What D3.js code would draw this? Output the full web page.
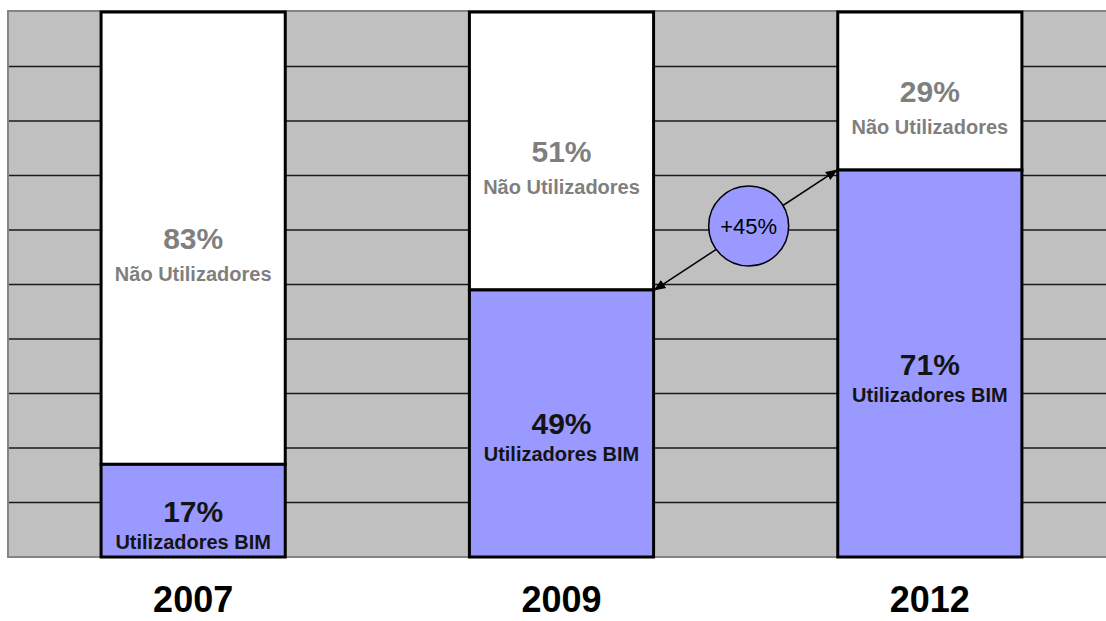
<!DOCTYPE html>
<html>
<head>
<meta charset="utf-8">
<script src="https://cdn.jsdelivr.net/npm/d3@7"></script>
<style>
  html, body { margin: 0; padding: 0; background: #ffffff; overflow: hidden; }
  svg { display: block; font-family: "Liberation Sans", Arial, sans-serif; }
</style>
</head>
<body>
<svg id="chart" width="1106" height="621"></svg>
<script>
// Share of BIM users vs non-users per survey year
const years = ["2007", "2009", "2012"];
const users = [17, 49, 71];
const nonUsers = [83, 51, 29];
const userLabel = "Utilizadores BIM";
const nonUserLabel = "Não Utilizadores";
const yTicks = [10, 20, 30, 40, 50, 60, 70, 80, 90];

const svg = d3.select("#chart");

const plot = { left: 8, top: 11, right: 1114, bottom: 557 };

const x = d3.scaleBand()
  .domain(years)
  .range([9, 1114])
  .paddingInner(0.5)
  .paddingOuter(0.25);

const y = d3.scaleLinear()
  .domain([0, 100])
  .range([557, 12]);

// plot background
svg.append("rect")
  .attr("x", plot.left).attr("y", plot.top)
  .attr("width", plot.right - plot.left)
  .attr("height", plot.bottom - plot.top)
  .attr("fill", "#c0c0c0")
  .attr("stroke", "#858585")
  .attr("stroke-width", 2);

// horizontal gridlines
svg.append("g")
  .selectAll("line")
  .data(yTicks)
  .join("line")
  .attr("x1", plot.left + 1).attr("x2", plot.right)
  .attr("y1", d => y(d)).attr("y2", d => y(d))
  .attr("stroke", "#1a1a1a")
  .attr("stroke-width", 1.5);

const rows = years.map((yr, i) => ({ year: yr, users: users[i], nonUsers: nonUsers[i] }));

const bars = svg.append("g")
  .selectAll("g")
  .data(rows)
  .join("g");

// non-user segment (top, white)
bars.append("rect")
  .attr("x", d => x(d.year))
  .attr("y", d => y(d.users + d.nonUsers))
  .attr("width", x.bandwidth())
  .attr("height", d => y(d.users) - y(d.users + d.nonUsers))
  .attr("fill", "#ffffff")
  .attr("stroke", "#000000")
  .attr("stroke-width", 3);

// user segment (bottom, blue)
bars.append("rect")
  .attr("x", d => x(d.year))
  .attr("y", d => y(d.users))
  .attr("width", x.bandwidth())
  .attr("height", d => y(0) - y(d.users))
  .attr("fill", "#9999ff")
  .attr("stroke", "#000000")
  .attr("stroke-width", 3);

const pct = v => v + "%";

// labels inside each segment
bars.each(function(d) {
  const g = d3.select(this);
  const cx = x(d.year) + x.bandwidth() / 2;
  const midTop = (y(d.users + d.nonUsers) + y(d.users)) / 2;
  g.append("text")
    .attr("x", cx).attr("y", midTop + 11)
    .attr("text-anchor", "middle")
    .attr("font-size", 30).attr("font-weight", "bold")
    .attr("fill", "#7f7f7f")
    .text(pct(d.nonUsers));
  g.append("text")
    .attr("x", cx).attr("y", midTop + 43)
    .attr("text-anchor", "middle")
    .attr("font-size", 20).attr("font-weight", "bold")
    .attr("fill", "#7f7f7f")
    .text(nonUserLabel);

  const midBot = (y(d.users) + y(0)) / 2;
  g.append("text")
    .attr("x", cx).attr("y", midBot + 11)
    .attr("text-anchor", "middle")
    .attr("font-size", 30).attr("font-weight", "bold")
    .attr("fill", "#141414")
    .text(pct(d.users));
  g.append("text")
    .attr("x", cx).attr("y", midBot + 38)
    .attr("text-anchor", "middle")
    .attr("font-size", 20).attr("font-weight", "bold")
    .attr("fill", "#141414")
    .text(userLabel);
});

// year labels under the bars
svg.append("g")
  .selectAll("text")
  .data(years)
  .join("text")
  .attr("x", d => x(d) + x.bandwidth() / 2)
  .attr("y", 612)
  .attr("text-anchor", "middle")
  .attr("font-size", 36).attr("font-weight", "bold")
  .attr("fill", "#000000")
  .text(d => d);

// growth arrow between 2009 and 2012 user shares
const defs = svg.append("defs");
["start", "end"].forEach(k => {
  defs.append("marker")
    .attr("id", "arrow-" + k)
    .attr("viewBox", "0 0 10 10")
    .attr("refX", 9).attr("refY", 5)
    .attr("markerWidth", 8).attr("markerHeight", 8)
    .attr("markerUnits", "strokeWidth")
    .attr("orient", k === "start" ? "auto-start-reverse" : "auto")
    .append("path")
    .attr("d", "M0,1 L10,5 L0,9 Z")
    .attr("fill", "#000000");
});

const a = { x: x("2009") + x.bandwidth() + 1, y: y(users[1]) };
const b = { x: x("2012") - 1, y: y(users[2]) };

svg.append("line")
  .attr("x1", a.x).attr("y1", a.y)
  .attr("x2", b.x).attr("y2", b.y)
  .attr("stroke", "#000000")
  .attr("stroke-width", 1.5)
  .attr("marker-start", "url(#arrow-start)")
  .attr("marker-end", "url(#arrow-end)");

const growth = (users[2] - users[1]) / users[1];
const cxm = (a.x + b.x) / 2 + 3, cym = (a.y + b.y) / 2 - 4;

svg.append("circle")
  .attr("cx", cxm).attr("cy", cym)
  .attr("r", 40)
  .attr("fill", "#9999ff")
  .attr("stroke", "#000000")
  .attr("stroke-width", 1.5);

svg.append("text")
  .attr("x", cxm).attr("y", cym + 8)
  .attr("text-anchor", "middle")
  .attr("font-size", 22)
  .attr("fill", "#000000")
  .text(d3.format("+.0%")(growth));
</script>
</body>
</html>
